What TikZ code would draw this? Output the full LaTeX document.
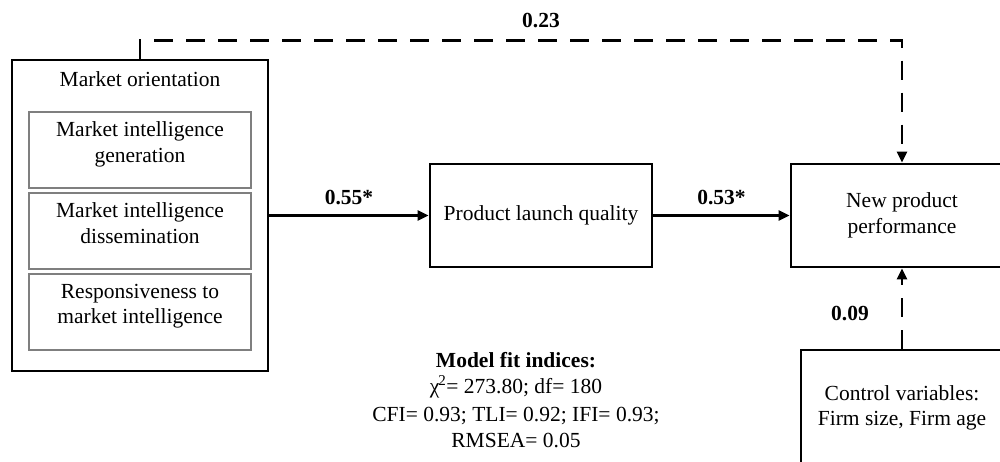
\documentclass[tikz,border=0pt]{standalone}
\usepackage{fontspec}
\setmainfont{Liberation Serif}
\usetikzlibrary{arrows.meta,positioning}
\definecolor{Frame}{HTML}{7F7F7F}

\tikzset{
  boxnode/.style={draw, line width=2.7pt, align=center, inner sep=0pt},
  subbox/.style={draw=Frame, line width=1.7pt, align=center, inner sep=0pt,
    minimum width=222pt, minimum height=76pt, text depth=16pt},
  conn/.style={line width=2.5pt, -{Triangle[length=11pt,width=10pt]}},
  dashline/.style={dash pattern=on 19pt off 13pt},
  lbl/.style={font=\fontsize{21.5}{25.5}\selectfont\bfseries}
}

\begin{document}
\begin{tikzpicture}[x=1pt, y=-1pt, font=\fontsize{21.5}{25.5}\selectfont]
  \clip (0,0) rectangle (1000,461);
  % market orientation with its three dimensions
  \node[boxnode, minimum width=256pt, minimum height=311pt] (mo) at (140,215.5) {};
  \node (motitle) at (140,79) {Market orientation};
  \node[subbox] (gen) at (140,150) {Market intelligence\\generation};
  \node[subbox] (dis) at (140,231) {Market intelligence\\dissemination};
  \node[subbox] (resp) at (140,312) {Responsiveness to\\market intelligence};
  % mediator, outcome and controls
  \node[boxnode, minimum width=222pt, minimum height=103pt] (plq) at (541,215.5) {Product launch quality};
  \node[boxnode, minimum width=222pt, minimum height=103pt] (npp) at (902,215.5) {New product\\performance};
  \node[boxnode, minimum width=202pt, minimum height=116pt] (ctrl) at (902,408) {Control variables:\\Firm size, Firm age};
  \node[align=center] (fit) at (516,400) {\textbf{Model fit indices:}\\χ\kern-1pt\textsuperscript{2}= 273.80; df= 180\\[3pt]CFI= 0.93; TLI= 0.92; IFI= 0.93;\\RMSEA= 0.05};
  % paths
  \draw[conn] (mo.east) -- node[lbl, above=6pt] {0.55*} (plq.west);
  \draw[conn] (plq.east) -- node[lbl, above=6pt] {0.53*} (npp.west);
  \draw[conn, dashline] (mo.north) -- ++(0,-18) -| (npp.north);
  \draw[conn, dashline] (ctrl.north) -- (npp.south);
  \node[lbl] (w23) at (541,21) {0.23};
  \node[lbl] (w09) at (850,313) {0.09};
\end{tikzpicture}
\end{document}
